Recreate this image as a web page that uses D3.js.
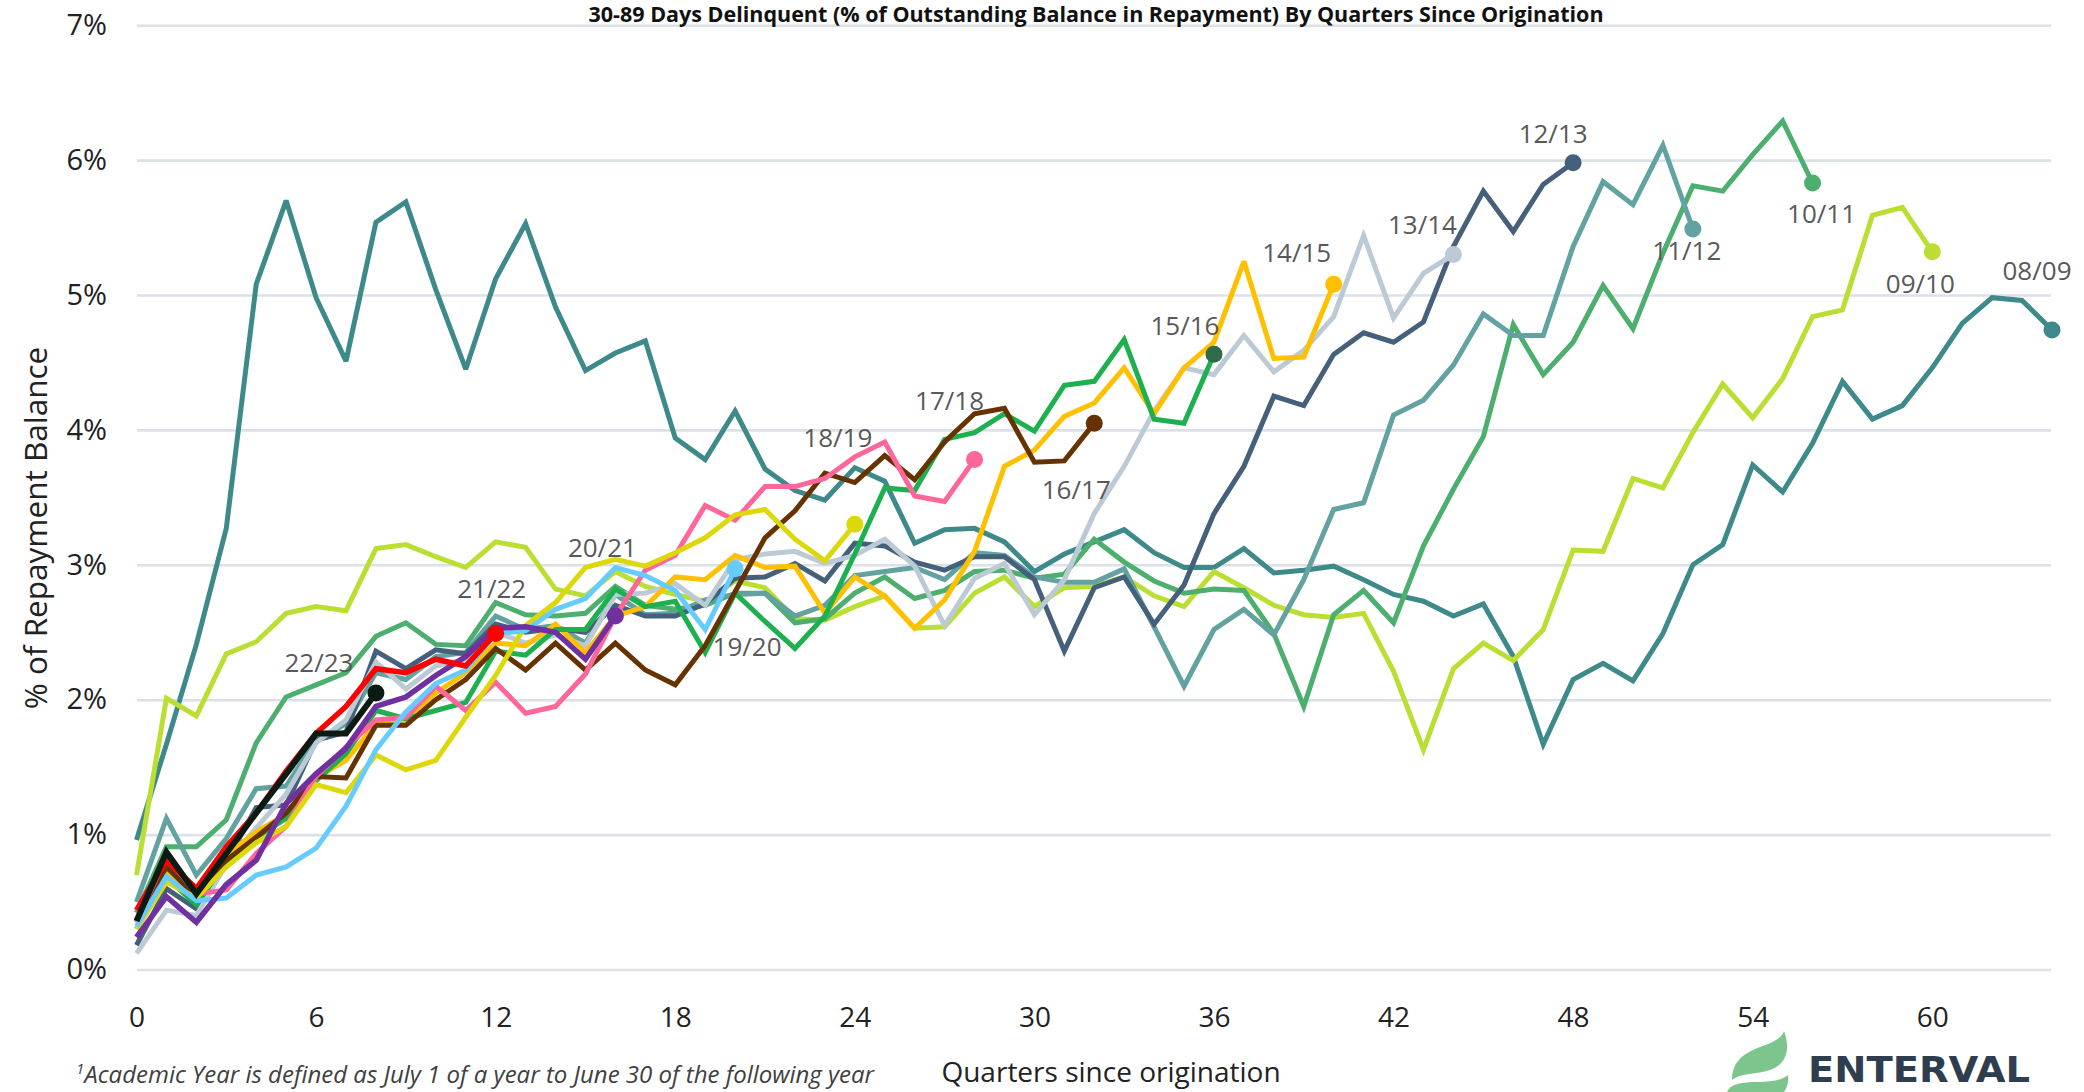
<!DOCTYPE html>
<html><head><meta charset="utf-8">
<script src="https://cdn.jsdelivr.net/npm/d3@7"></script>
<style>
html,body{margin:0;padding:0;background:#fff;}
svg{display:block;font-family:"Open Sans",sans-serif;}
</style></head><body>
<svg id="chart" width="2084" height="1092"></svg>
<script>
// ---------------- DATA ----------------
const cohorts = ["08/09","09/10","10/11","11/12","12/13","13/14","14/15","15/16","16/17","17/18","18/19","19/20","20/21","21/22","22/23"];

const s0809 = [0.96,1.67,2.41,3.27,5.08,5.70,4.98,4.51,5.54,5.69,
  5.04,4.45,5.12,5.53,4.91,4.44,4.57,4.66,3.94,3.78,
  4.14,3.71,3.55,3.48,3.72,3.62,3.16,3.26,3.27,3.17,
  2.95,3.08,3.17,3.26,3.09,2.98,2.98,3.12,2.94,2.96,
  2.99,2.89,2.78,2.73,2.62,2.71,2.32,1.67,2.15,2.27,
  2.14,2.49,3.00,3.15,3.74,3.54,3.90,4.36,4.08,4.18,
  4.46,4.79,4.98,4.96,4.74];
const s0910 = [0.70,2.01,1.88,2.34,2.43,2.64,2.69,2.66,3.12,3.15,
  3.06,2.98,3.17,3.13,2.82,2.77,2.95,2.84,2.78,2.73,
  2.88,2.83,2.60,2.59,2.69,2.77,2.53,2.54,2.79,2.91,
  2.69,2.83,2.84,2.91,2.77,2.69,2.95,2.83,2.70,2.63,
  2.61,2.64,2.21,1.63,2.23,2.42,2.29,2.52,3.11,3.10,
  3.64,3.57,3.98,4.34,4.09,4.38,4.84,4.89,5.59,5.65,
  5.32];
const s1011 = [0.42,0.91,0.91,1.11,1.68,2.02,2.11,2.20,2.47,2.57,
  2.41,2.40,2.72,2.63,2.62,2.64,2.84,2.70,2.67,2.70,
  2.79,2.79,2.57,2.60,2.79,2.91,2.75,2.81,2.95,2.96,
  2.90,2.93,3.19,3.02,2.88,2.79,2.82,2.81,2.49,1.95,
  2.63,2.81,2.57,3.14,3.56,3.95,4.78,4.41,4.65,5.07,
  4.75,5.31,5.81,5.77,6.04,6.29,5.83];
const s1112 = [0.50,1.12,0.70,0.97,1.34,1.36,1.70,1.82,2.20,2.15,
  2.32,2.35,2.62,2.52,2.55,2.42,2.78,2.63,2.64,2.74,
  2.78,2.79,2.62,2.70,2.92,2.95,2.98,2.89,3.09,3.07,
  2.91,2.87,2.87,2.97,2.54,2.10,2.52,2.67,2.48,2.89,
  3.41,3.46,4.11,4.22,4.48,4.86,4.70,4.70,5.36,5.84,
  5.67,6.11,5.49];
const s1213 = [0.18,0.60,0.45,0.80,1.20,1.22,1.70,1.76,2.36,2.23,
  2.37,2.34,2.56,2.50,2.53,2.50,2.70,2.62,2.62,2.71,
  2.90,2.91,3.01,2.88,3.16,3.14,3.02,2.96,3.06,3.06,
  2.89,2.36,2.83,2.91,2.56,2.85,3.38,3.73,4.25,4.18,
  4.56,4.72,4.65,4.80,5.36,5.77,5.47,5.82,5.98];
const s1314 = [0.12,0.44,0.40,0.78,1.05,1.30,1.68,1.85,2.28,2.08,
  2.25,2.30,2.50,2.42,2.48,2.40,2.78,2.79,2.86,2.70,
  3.04,3.08,3.10,3.01,3.07,3.19,2.99,2.55,2.90,3.01,
  2.63,2.89,3.38,3.73,4.14,4.46,4.41,4.70,4.43,4.59,
  4.84,5.44,4.83,5.16,5.30];
const s1415 = [0.35,0.72,0.55,0.85,1.02,1.15,1.42,1.55,1.82,1.85,
  2.05,2.20,2.42,2.40,2.56,2.35,2.62,2.69,2.91,2.89,
  3.07,2.98,2.99,2.64,2.91,2.77,2.53,2.74,3.10,3.73,
  3.85,4.10,4.20,4.46,4.12,4.46,4.65,5.25,4.53,4.54,
  5.08];
const s1516 = [0.30,0.68,0.48,0.80,0.98,1.12,1.40,1.60,1.92,1.86,
  1.92,1.98,2.36,2.33,2.52,2.52,2.82,2.69,2.73,2.35,
  2.79,2.58,2.38,2.62,3.08,3.57,3.55,3.93,3.98,4.12,
  3.99,4.33,4.36,4.67,4.08,4.05,4.56];
const s1617 = [0.35,0.76,0.54,0.81,0.98,1.16,1.43,1.42,1.81,1.81,
  2.00,2.15,2.38,2.22,2.42,2.22,2.42,2.22,2.11,2.40,
  2.80,3.20,3.40,3.68,3.61,3.81,3.63,3.91,4.12,4.16,
  3.76,3.77,4.05];
const s1718 = [0.35,0.84,0.56,0.59,0.86,1.06,1.43,1.65,1.85,1.87,
  2.10,1.92,2.13,1.90,1.95,2.19,2.62,2.96,3.07,3.44,
  3.33,3.58,3.58,3.64,3.80,3.91,3.51,3.47,3.78];
const s1819 = [0.30,0.65,0.53,0.76,0.94,1.06,1.37,1.31,1.59,1.48,
  1.55,1.87,2.18,2.55,2.72,2.98,3.04,2.99,3.09,3.20,
  3.37,3.41,3.19,3.03,3.30];
const s1920 = [0.32,0.69,0.51,0.53,0.70,0.76,0.90,1.21,1.63,1.91,
  2.12,2.22,2.49,2.51,2.67,2.75,2.98,2.92,2.81,2.52,
  2.97];
const s2021 = [0.24,0.54,0.35,0.63,0.81,1.23,1.45,1.64,1.95,2.02,
  2.18,2.32,2.53,2.54,2.50,2.30,2.62];
const s2122 = [0.44,0.81,0.60,0.91,1.16,1.47,1.75,1.95,2.23,2.20,
  2.30,2.25,2.49];
const s2223 = [0.36,0.87,0.56,0.86,1.16,1.45,1.75,1.75,2.05];

const seriesValues = [s0809,s0910,s1011,s1112,s1213,s1314,s1415,s1516,s1617,s1718,s1819,s1920,s2021,s2122,s2223];

const xTicks = [0,6,12,18,24,30,36,42,48,54,60];
const yTicks = [0,1,2,3,4,5,6,7];
const yTickLabels = ["0%","1%","2%","3%","4%","5%","6%","7%"];

const titleText = "30-89 Days Delinquent (% of Outstanding Balance in Repayment) By Quarters Since Origination";
const yTitle = "% of Repayment Balance";
const xTitle = "Quarters since origination";
const footnoteSup = "1";
const footnoteText = "Academic Year is defined as July 1 of a year to June 30 of the following year";
const logoText = "ENTERVAL";

// ---------------- STYLE ----------------
const lineColors = ["#3E8A8B","#BADF32","#4DAF6E","#62A2A0","#44607A","#BCCAD6","#FFC000","#1DB04F","#663300","#FF6699","#DDD80A","#66CCFF","#7030A0","#FF0000","#0B1A12"];
const dotColors  = ["#3E8A8B","#BADF32","#4DAF6E","#62A2A0","#44607A","#BCCAD6","#FFC000","#2E6B46","#663300","#FF6699","#DDD80A","#66CCFF","#7030A0","#FF0000","#0B1A12"];
// label offsets from end point (px)
const labelOffsets = [[-15,-59],[-12,32],[9,31],[-6,22],[-20,-29],[-31,-30],[-37,-32],[-29,-29],[-18,66],[-25,-59],[-17,-87],[12,78],[-13,-68],[-4,-45],[-57,-30]];

// ---------------- DRAW ----------------
const svg = d3.select("#chart");
const x = d3.scaleLinear().domain([0,64]).range([136.5,2052]);
const y = d3.scaleLinear().domain([0,7]).range([969.5,25.2]);

// gridlines + y labels
const yAxis = d3.axisLeft(y).tickValues(yTicks)
  .tickFormat((d,i)=>yTickLabels[i])
  .tickSize(-(2051-137)).tickPadding(30);
const gy = svg.append("g").attr("transform","translate(137,0)").call(yAxis);
gy.select(".domain").remove();
gy.selectAll(".tick line").attr("stroke","#DCE1E8").attr("stroke-width",2.6);
gy.selectAll(".tick text").attr("font-family","Open Sans").attr("font-size",29).attr("fill","#222");

// x labels
const xAxis = d3.axisBottom(x).tickValues(xTicks).tickSize(0).tickPadding(37.5);
const gx = svg.append("g").attr("transform","translate(0,969.5)").call(xAxis);
gx.select(".domain").remove();
gx.selectAll(".tick text").attr("font-family","Open Sans").attr("font-size",28).attr("fill","#222");

// lines
const line = d3.line().x((d,i)=>x(i)).y(d=>y(d));
const gLines = svg.append("g");
seriesValues.forEach((vals,k)=>{
  gLines.append("path").datum(vals)
    .attr("d",line).attr("fill","none")
    .attr("stroke",lineColors[k])
    .attr("stroke-width", k===14 ? 6 : (k>=12 ? 5.5 : 5))
    .attr("stroke-linejoin","miter").attr("stroke-miterlimit",3);
});
// end dots
seriesValues.forEach((vals,k)=>{
  const n = vals.length-1;
  gLines.append("circle").attr("cx",x(n)).attr("cy",y(vals[n])).attr("r",8.5).attr("fill",dotColors[k]);
});
// labels
seriesValues.forEach((vals,k)=>{
  const n = vals.length-1;
  svg.append("text").attr("x",x(n)+labelOffsets[k][0]).attr("y",y(vals[n])+labelOffsets[k][1])
    .attr("dy","0.36em").attr("text-anchor","middle")
    .attr("font-size",26).attr("fill","#595959").text(cohorts[k]);
});

// title
svg.append("text").attr("x",1096).attr("y",22).attr("text-anchor","middle")
  .attr("font-size",21.5).attr("font-weight","bold").attr("fill","#111").text(titleText);

// y title
svg.append("text").attr("transform","translate(36,528) rotate(-90)")
  .attr("text-anchor","middle").attr("dy","0.36em")
  .attr("font-size",31.5).attr("fill","#222").text(yTitle);

// x title
svg.append("text").attr("x",1111).attr("y",1082).attr("text-anchor","middle")
  .attr("font-size",28).attr("fill","#222").text(xTitle);

// footnote
const fn = svg.append("text").attr("x",76).attr("y",1083)
  .attr("font-size",24).attr("font-style","italic").attr("fill","#404040");
fn.append("tspan").attr("font-size",15).attr("dy",-9).text(footnoteSup);
fn.append("tspan").attr("dy",9).text(footnoteText);

// logo
const logo = svg.append("g");
logo.append("path").attr("fill","#7CC68E")
  .attr("d","M1732,1080 C1732,1056 1752,1050 1768,1044 C1776,1041 1782,1037 1784,1031 C1791,1050 1786,1064 1770,1070 C1756,1075 1742,1072 1732,1080 Z");
logo.append("path").attr("fill","#7CC68E")
  .attr("d","M1727,1092 C1730,1084 1742,1082 1758,1082 C1772,1082 1782,1080 1788,1075 C1789,1082 1787,1088 1784,1092 Z");
logo.append("text").attr("x",1808).attr("y",1082).attr("font-family","DejaVu Sans")
  .attr("font-weight","bold").attr("font-size",36).attr("fill","#2E3E4E")
  .attr("textLength",222).attr("lengthAdjust","spacingAndGlyphs").text(logoText);
</script>
</body></html>
